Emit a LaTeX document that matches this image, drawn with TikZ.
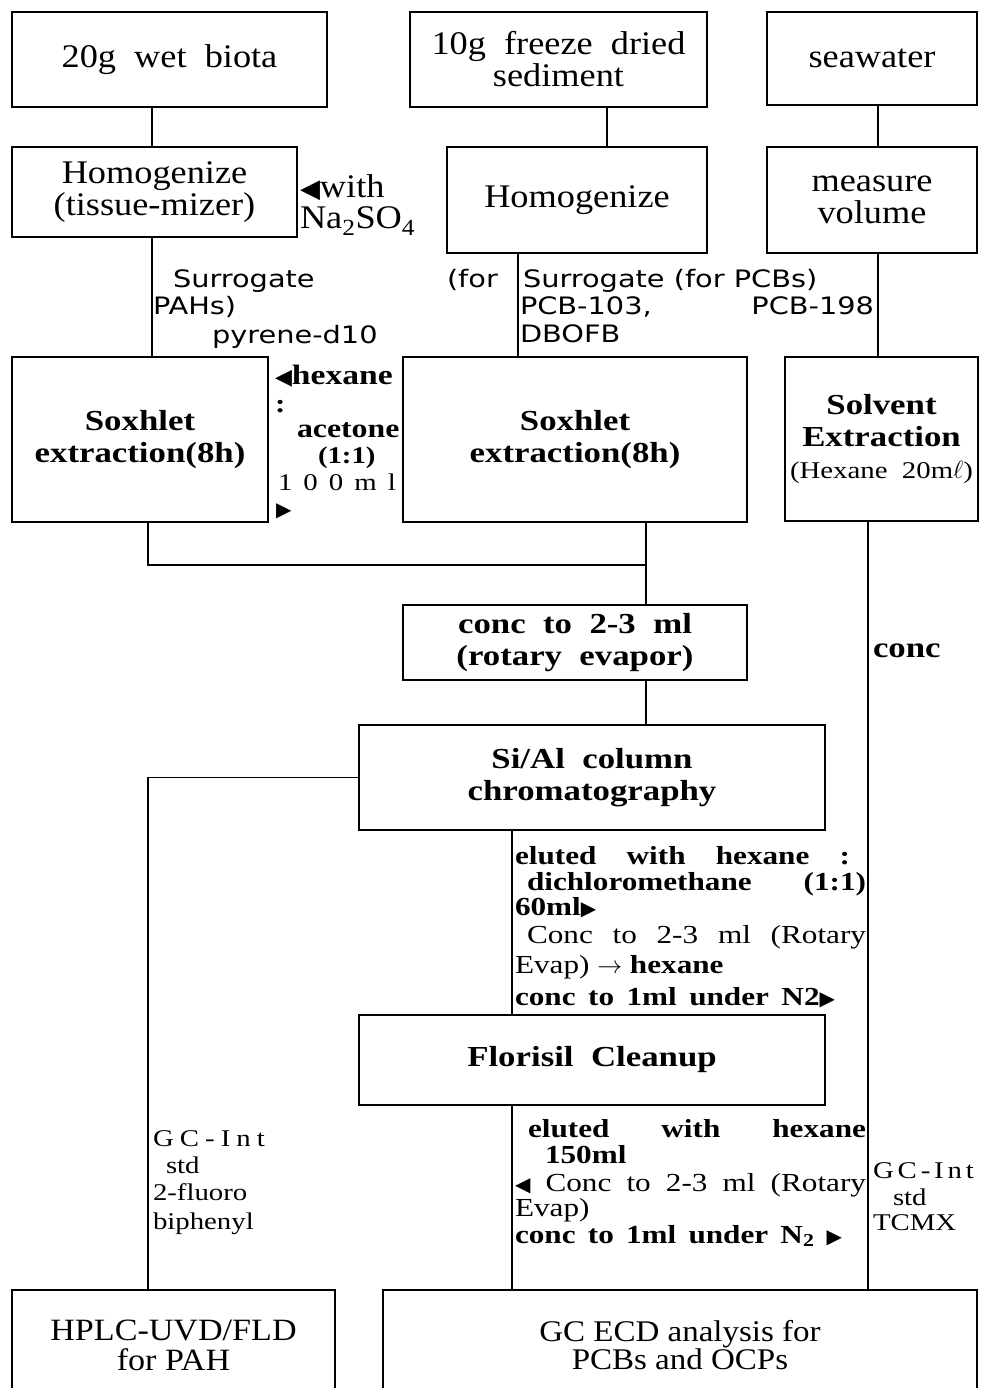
\documentclass[tikz,border=0pt]{standalone}
\usepackage{fontspec}
\setmainfont{Liberation Serif}
\newfontfamily\topf[FakeStretch=1.1]{Liberation Serif}
\newfontfamily\widef[FakeStretch=1.2]{Liberation Serif}
\newfontfamily\hand[FakeStretch=1.2]{DejaVu Sans}
\newfontfamily\sym{DejaVu Sans}
\begin{document}
\begin{tikzpicture}[x=1pt,y=-1pt,
  box/.style={draw, line width=1.8pt, inner sep=0pt, outer sep=0pt, align=center},
  topbox/.style={box, font=\topf\fontsize{33}{32}\selectfont},
  boldbox/.style={box, font=\widef\bfseries\fontsize{29}{32}\selectfont},
  conn/.style={line width=1.6pt},
  lab/.style={anchor=base west, inner sep=0pt, outer sep=0pt},
  handlab/.style={lab, font=\hand\fontsize{24}{26}\selectfont},
  boldlab/.style={lab, font=\widef\bfseries\fontsize{26}{28}\selectfont},
  reglab/.style={lab, font=\widef\fontsize{26}{28}\selectfont},
  stdlab/.style={lab, font=\widef\fontsize{24}{26}\selectfont},
  toplab/.style={lab, font=\topf\fontsize{33}{32}\selectfont}]
\useasboundingbox (0,0) rectangle (982,1388);
\clip (0,0) rectangle (982,1388);

% columns
\coordinate (cA) at (152,0);
\coordinate (cB) at (148,0);
\coordinate (cS) at (607,0);
\coordinate (cM) at (518,0);
\coordinate (cW) at (878,0);
\coordinate (cC) at (646,0);
\coordinate (cD) at (512,0);
\coordinate (cE) at (868,0);
\coordinate (jn) at (646,565);

% boxes
\node[topbox, minimum width=315, minimum height=95] (bio) at (169.5,59.5) {20g\ \ wet\ \ biota};
\node[topbox, minimum width=297, minimum height=95] (sed) at (558.5,59.5) {10g\ \ freeze\ \ dried\\sediment};
\node[topbox, minimum width=210, minimum height=93] (sea) at (872,58.5) {seawater};
\node[topbox, minimum width=285, minimum height=90] (homL) at (154.5,192) {Homogenize\\(tissue-mizer)};
\node[topbox, minimum width=260, minimum height=106] (homM) at (577,200) {Homogenize};
\node[topbox, minimum width=210, minimum height=106] (meas) at (872,200) {measure\\volume};
\node[boldbox, minimum width=256, minimum height=165] (soxL) at (140,439.5) {Soxhlet\\extraction(8h)};
\node[boldbox, minimum width=344, minimum height=165] (soxM) at (575,439.5) {Soxhlet\\extraction(8h)};
\node[boldbox, minimum width=193, minimum height=164] (solv) at (881.5,439) {Solvent\\Extraction\\{\mdseries\fontsize{24}{30}\selectfont(Hexane\ \ 20m$\ell$)}};
\node[boldbox, minimum width=344, minimum height=75] (conc) at (575,642.5) {conc\ \ to\ \ 2-3\ \ ml\\(rotary\ \ evapor)};
\node[boldbox, minimum width=466, minimum height=105] (sial) at (592,777.5) {Si/Al\ \ column\\chromatography};
\node[boldbox, minimum width=466, minimum height=90] (flor) at (592,1060) {Florisil\ \ Cleanup};
\node[box, font=\topf\fontsize{31}{30}\selectfont, minimum width=323, minimum height=110] (hplc) at (173.5,1345) {HPLC-UVD/FLD\\for PAH};
\node[box, font=\topf\fontsize{30}{28}\selectfont, minimum width=594, minimum height=110] (gc) at (680,1345) {GC ECD analysis for\\PCBs and OCPs};

% connectors
\draw[conn] (bio.south -| cA) -- (homL.north -| cA);
\draw[conn] (sed.south -| cS) -- (homM.north -| cS);
\draw[conn] (sea.south -| cW) -- (meas.north -| cW);
\draw[conn] (homL.south -| cA) -- (soxL.north -| cA);
\draw[conn] (homM.south -| cM) -- (soxM.north -| cM);
\draw[conn] (meas.south -| cW) -- (solv.north -| cW);
\draw[conn] (soxL.south -| cB) |- (jn);
\draw[conn] (soxM.south -| cC) -- (conc.north -| cC);
\draw[conn] (conc.south -| cC) -- (sial.north -| cC);
\draw[conn] (sial.west) -| (hplc.north -| cB);
\draw[conn] (sial.south -| cD) -- (flor.north -| cD);
\draw[conn] (flor.south -| cD) -- (gc.north -| cD);
\draw[conn] (solv.south -| cE) -- (gc.north -| cE);

% labels near homogenize
\node[toplab] (w1) at (300,198) {{\sym\fontsize{26}{26}\selectfont ◀}with};
\node[toplab] (w2) at (300,229) {Na\textsubscript{2}SO\textsubscript{4}};

% surrogate labels
\node[handlab] (s1) at (173,287) {Surrogate};
\node[handlab] (s2) at (153,314) {PAHs)};
\node[handlab] (s3) at (212,343) {pyrene-d10};
\node[handlab] (s4) at (447,287) {(for};
\node[handlab] (s5) at (523,287) {Surrogate (for PCBs)};
\node[handlab] (s6) at (520,314) {PCB-103,};
\node[handlab] (s7) at (520,342) {DBOFB};
\node[handlab, anchor=base east] (s8) at (874,314) {PCB-198};

% hexane:acetone
\node[boldlab, font=\widef\bfseries\fontsize{28}{28}\selectfont] (h1) at (275,384) {{\sym\fontsize{22}{22}\selectfont ◀}hexane};
\node[boldlab] (h2) at (275,412) {:};
\node[boldlab, font=\widef\bfseries\fontsize{26.5}{28}\selectfont] (h3) at (297,437) {acetone};
\node[boldlab, font=\widef\bfseries\fontsize{24}{26}\selectfont] (h4) at (318,463) {(1:1)};
\node[stdlab] (h5) at (278,490) {\hbox to 118pt{1\hfill 0\hfill 0\hfill m\hfill l}};
\node[lab, font=\sym\fontsize{20}{20}\selectfont] (h6) at (276,516) {▶};

% conc
\node[boldlab, font=\widef\bfseries\fontsize{29}{30}\selectfont] (cc) at (873,657) {conc};

% eluted block 1
\node[boldlab] (e1) at (515,864) {\hbox to 335pt{eluted\hfill with\hfill hexane\hfill :}};
\node[boldlab] (e2) at (527,890) {\hbox to 339pt{dichloromethane\hfill (1:1)}};
\node[boldlab] (e3) at (515,915) {60ml{\sym\fontsize{20}{20}\selectfont ▶}};
\node[reglab] (e4) at (527,943) {\hbox to 339pt{Conc\hfill to\hfill 2-3\hfill ml\hfill (Rotary}};
\node[reglab] (e5) at (515,973) {Evap)\ $\rightarrow$\ \textbf{hexane}};
\node[boldlab] (e6) at (515,1005) {\hbox to 320pt{conc\hfill to\hfill 1ml\hfill under\hfill N2{\sym\fontsize{20}{20}\selectfont ▶}}};

% eluted block 2
\node[boldlab] (f1) at (528,1137) {\hbox to 338pt{eluted\hfill with\hfill hexane}};
\node[boldlab] (f2) at (545,1163) {150ml};
\node[reglab] (f3) at (515,1191) {\hbox to 351pt{{\sym\fontsize{20}{20}\selectfont ◀}\hfill Conc\hfill to\hfill 2-3\hfill ml\hfill (Rotary}};
\node[reglab] (f4) at (515,1216) {Evap)};
\node[boldlab] (f5) at (515,1243) {\hbox to 327pt{conc\hfill to\hfill 1ml\hfill under\hfill N\textsubscript{2}\hfill {\sym\fontsize{20}{20}\selectfont ▶}}};

% GC internal std
\node[stdlab] (g1) at (153,1146) {\hbox to 112pt{G\hfill C\hfill -\hfill I\hfill n\hfill t}};
\node[stdlab] (g2) at (166,1173) {std};
\node[stdlab] (g3) at (153,1200) {2-fluoro};
\node[stdlab] (g4) at (153,1229) {biphenyl};
\node[stdlab] (g5) at (873,1178) {\hbox to 101pt{G\hfill C\hfill -\hfill I\hfill n\hfill t}};
\node[stdlab] (g6) at (893,1205) {std};
\node[stdlab] (g7) at (873,1230) {TCMX};
\end{tikzpicture}
\end{document}
